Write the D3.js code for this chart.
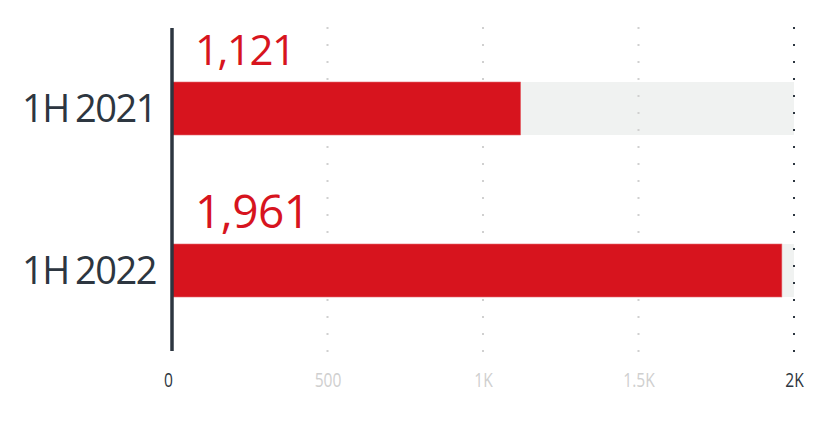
<!DOCTYPE html>
<html><head><meta charset="utf-8">
<script src="https://cdn.jsdelivr.net/npm/d3@7"></script>
<style>
body{margin:0;background:#fff;}
svg{display:block;font-family:"Open Sans",sans-serif;}
</style></head>
<body><div id="chart"></div>
<script>
const categories = ["1H 2021", "1H 2022"];
const values = [1121, 1961];
const valueLabels = ["1,121", "1,961"];
const tickValues = [0, 500, 1000, 1500, 2000];
const tickLabels = ["0", "500", "1K", "1.5K", "2K"];
const maxValue = 2000;

const W = 835, H = 422;
const svg = d3.select("#chart").append("svg").attr("width", W).attr("height", H);

const x = d3.scaleLinear().domain([0, maxValue]).range([172, 794]);
const bandY = d3.scaleOrdinal().domain(categories).range([82, 244]);
const barH = 53;

// background bars
svg.append("g").selectAll("rect").data(categories).join("rect")
  .attr("x", x(0)).attr("y", d => bandY(d))
  .attr("width", x(maxValue) - x(0)).attr("height", barH)
  .attr("fill", "#f0f2f1");

// gridlines (dotted)
const grid = svg.append("g");
grid.selectAll("line").data(tickValues.slice(1)).join("line")
  .attr("x1", d => x(d)).attr("x2", d => x(d))
  .attr("y1", 27).attr("y2", 352)
  .attr("stroke", d => d === maxValue ? "#2d3640" : "#d0d0d0")
  .attr("stroke-width", 2)
  .attr("stroke-dasharray", "2 15");

// value bars
svg.append("g").selectAll("rect").data(values).join("rect")
  .attr("x", x(0)).attr("y", (d, i) => bandY(categories[i]))
  .attr("width", d => x(d) - x(0)).attr("height", barH)
  .attr("fill", "#d7141e")
  .attr("stroke", "#e46a70").attr("stroke-width", 0.6);

// value labels
const labelSizes = [42, 46];
svg.append("g").selectAll("text").data(valueLabels).join("text")
  .attr("x", 195).attr("y", (d, i) => bandY(categories[i]) - (i === 0 ? 17 : 16))
  .attr("fill", "#d7141e")
  .attr("font-size", (d, i) => labelSizes[i])
  .attr("letter-spacing", (d, i) => i === 0 ? -1.5 : -0.5)
  .text(d => d);

// category labels
svg.append("g").selectAll("text").data(categories).join("text")
  .attr("x", 156).attr("y", d => bandY(d) + barH / 2)
  .attr("dy", "0.36em")
  .attr("text-anchor", "end")
  .attr("fill", "#2d3640")
  .attr("font-size", 38)
  .attr("letter-spacing", "-1.5")
  .attr("word-spacing", "-2")
  .text(d => d);

// zero axis line
svg.append("line")
  .attr("x1", x(0)).attr("x2", x(0))
  .attr("y1", 28).attr("y2", 351)
  .attr("stroke", "#2d3640").attr("stroke-width", 3.5);

// x axis labels
const xAxis = d3.axisBottom(x).tickValues(tickValues)
  .tickFormat((d, i) => tickLabels[i]).tickSize(0).tickPadding(0);
const ax = svg.append("g").attr("transform", "translate(0,373)").call(xAxis);
ax.select(".domain").remove();
ax.selectAll("text")
  .attr("font-family", "Open Sans, sans-serif")
  .attr("font-size", 19.5)
  .attr("dy", "0.71em")
  .attr("x", (d) => d === 0 ? -5 : 0)
  .attr("transform", "scale(0.8,1)")
  .attr("fill", (d, i) => (d === 0 || d === maxValue) ? "#2d3640" : "#cfcfcf");
</script></body></html>
